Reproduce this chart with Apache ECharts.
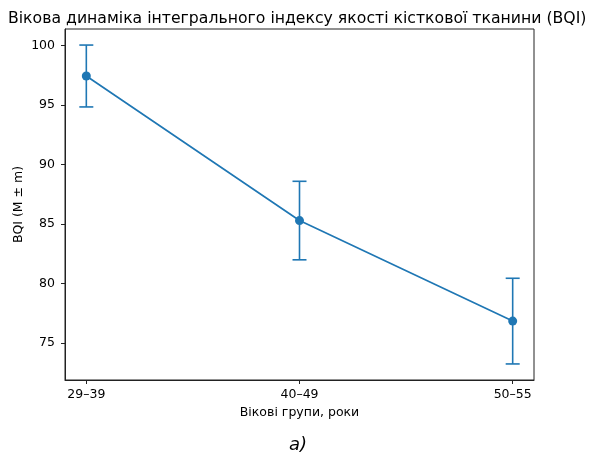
<!DOCTYPE html>
<html>
<head>
<meta charset="utf-8">
<script src="https://cdn.jsdelivr.net/npm/echarts@6/dist/echarts.min.js"></script>
<style>
  html, body { margin: 0; padding: 0; background: #fff; }
  #chart { width: 589px; height: 459px; }
</style>
</head>
<body>
<div id="chart"></div>
<script>
// вікові групи та значення BQI (M ± m)
var categories = ['29–39', '40–49', '50–55'];
var meanValues = [97.45, 85.3, 76.85];
var errValues = [2.6, 3.3, 3.6];
var yTicks = [75, 80, 85, 90, 95, 100];

var lineData = [];
var errData = [];
for (var i = 0; i < categories.length; i++) {
  lineData.push([i, meanValues[i]]);
  errData.push([i, meanValues[i] - errValues[i], meanValues[i] + errValues[i]]);
}

var blue = '#1f77b4';
var font = 'DejaVu Sans';

var myChart = echarts.init(document.getElementById('chart'));
var option = {
  animation: false,
  title: {
    text: 'Вікова динаміка інтегрального індексу якості кісткової тканини (BQI)',
    left: 3,
    top: 6,
    textStyle: { fontFamily: font, fontSize: 15.7, fontWeight: 'normal', color: '#000' }
  },
  grid: {
    left: 65, right: 55, top: 29, bottom: 79,
    show: true, borderColor: '#222', borderWidth: 1
  },
  xAxis: {
    type: 'value',
    min: -0.1,
    max: 2.1,
    name: 'Вікові групи, роки',
    nameLocation: 'middle',
    nameGap: 26,
    nameMoveOverlap: false,
    nameTextStyle: { fontFamily: font, fontSize: 12.5, color: '#000' },
    splitLine: { show: false },
    axisLine: { show: true, onZero: false, lineStyle: { color: '#222', width: 1 } },
    axisTick: { show: true, length: 4, lineStyle: { color: '#222' }, customValues: [0, 1, 2] },
    axisLabel: {
      customValues: [0, 1, 2],
      margin: 8,
      fontFamily: font, fontSize: 12.5, color: '#000',
      formatter: function (v) { return categories[Math.round(v)]; }
    }
  },
  yAxis: {
    type: 'value',
    min: 71.9,
    max: 101.4,
    name: 'BQI (M ± m)',
    nameLocation: 'middle',
    nameGap: 40,
    nameMoveOverlap: false,
    nameTextStyle: { fontFamily: font, fontSize: 12.5, color: '#000' },
    splitLine: { show: false },
    axisLine: { show: true, onZero: false, lineStyle: { color: '#222', width: 1 } },
    axisTick: { show: true, length: 4, lineStyle: { color: '#222' }, customValues: yTicks },
    axisLabel: {
      customValues: yTicks,
      margin: 10,
      fontFamily: font, fontSize: 12.5, color: '#000'
    }
  },
  series: [{
    type: 'custom',
    data: errData,
    z: 2,
    renderItem: function (params, api) {
      var x = api.value(0);
      var lo = api.coord([x, api.value(1)]);
      var hi = api.coord([x, api.value(2)]);
      var half = 7;
      var style = { stroke: blue, lineWidth: 1.6 };
      return {
        type: 'group',
        children: [
          { type: 'line', shape: { x1: lo[0], y1: lo[1], x2: hi[0], y2: hi[1] }, style: style },
          { type: 'line', shape: { x1: lo[0] - half, y1: lo[1], x2: lo[0] + half, y2: lo[1] }, style: style },
          { type: 'line', shape: { x1: hi[0] - half, y1: hi[1], x2: hi[0] + half, y2: hi[1] }, style: style }
        ]
      };
    }
  }, {
    type: 'line',
    data: lineData,
    z: 3,
    symbol: 'circle',
    symbolSize: 9,
    lineStyle: { color: blue, width: 1.7 },
    itemStyle: { color: blue },
    emphasis: { disabled: true }
  }],
  graphic: [{
    type: 'text',
    left: 289,
    top: 436,
    style: { text: 'а)', fontFamily: font, fontSize: 18, fontStyle: 'italic', fill: '#000' }
  }]
};
myChart.setOption(option);
</script>
</body>
</html>
